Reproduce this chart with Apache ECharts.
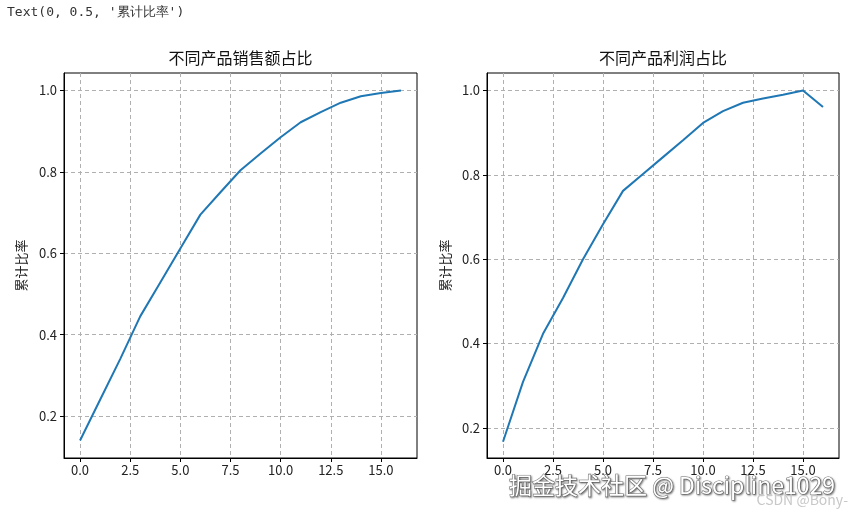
<!DOCTYPE html>
<html>
<head>
<meta charset="utf-8">
<script src="https://cdn.jsdelivr.net/npm/echarts@6/dist/echarts.min.js"></script>
<style>
html,body{margin:0;padding:0;background:#fff;}
#main{width:853px;height:514px;}
</style>
</head>
<body>
<div id="main"></div>
<script>
// ---- data ----
var productIndex = [0,1,2,3,4,5,6,7,8,9,10,11,12,13,14,15,16];
var salesCumRatio = [0.14,0.24,0.34,0.445,0.528,0.612,0.695,0.75,0.804,0.845,0.885,0.922,0.947,0.97,0.986,0.994,1.0];
var profitCumRatio = [0.167,0.309,0.423,0.508,0.6,0.683,0.762,0.802,0.842,0.882,0.923,0.951,0.971,0.981,0.99,1.0,0.961];
var xTickValues = [0,2.5,5,7.5,10,12.5,15];
var yTickValues = [0.2,0.4,0.6,0.8,1.0];
var titles = ['不同产品销售额占比','不同产品利润占比'];
var yName = '累计比率';
var outputText = "Text(0, 0.5, '累计比率')";

var FONT = '"Noto Sans CJK SC", "Noto Sans", sans-serif';
function pairs(xs, ys){ return xs.map(function(x,i){ return [x, ys[i]]; }); }

function xAxisCfg(gi){
  return {
    type:'value', gridIndex:gi, min:-0.8, max:16.8,
    axisLine:{show:true, onZero:false, lineStyle:{color:'#000', width:1}},
    axisTick:{show:true, length:4, inside:false, customValues:xTickValues, lineStyle:{color:'#000', width:1}},
    axisLabel:{customValues:xTickValues, formatter:function(v){return v.toFixed(1);}, color:'#222', fontSize:13, margin:6, fontFamily:FONT},
    splitLine:{show:true, lineStyle:{color:'#b0b0b0', type:[4,3], width:1}}
  };
}
function yAxisCfg(gi, mn, mx, gap){
  return {
    type:'value', gridIndex:gi, min:mn, max:mx,
    name:yName, nameLocation:'middle', nameGap:gap, nameRotate:90,
    nameTextStyle:{color:'#222', fontSize:13, fontFamily:FONT},
    axisLine:{show:true, onZero:false, lineStyle:{color:'#000', width:1}},
    axisTick:{show:true, length:4, inside:false, customValues:yTickValues, lineStyle:{color:'#000', width:1}},
    axisLabel:{customValues:yTickValues, formatter:function(v){return v.toFixed(1);}, color:'#222', fontSize:13, margin:7, fontFamily:FONT},
    splitLine:{show:true, lineStyle:{color:'#b0b0b0', type:[4,3], width:1}}
  };
}

var chart = echarts.init(document.getElementById('main'), null, {renderer:'canvas'});
chart.setOption({
  backgroundColor:'#fff',
  animation:false,
  grid:[
    {left:64, top:73, width:353, height:385, show:true, borderColor:'#000', borderWidth:1, backgroundColor:'transparent'},
    {left:487, top:73, width:352, height:385, show:true, borderColor:'#000', borderWidth:1, backgroundColor:'transparent'}
  ],
  xAxis:[xAxisCfg(0), xAxisCfg(1)],
  yAxis:[yAxisCfg(0, 0.097, 1.043, 36), yAxisCfg(1, 0.1285, 1.0415, 35)],
  series:[
    {type:'line', xAxisIndex:0, yAxisIndex:0, data:pairs(productIndex, salesCumRatio), showSymbol:false, lineStyle:{color:'#1f77b4', width:2}, itemStyle:{color:'#1f77b4'}},
    {type:'line', xAxisIndex:1, yAxisIndex:1, data:pairs(productIndex, profitCumRatio), showSymbol:false, lineStyle:{color:'#1f77b4', width:2}, itemStyle:{color:'#1f77b4'}}
  ],
  graphic:[
    {type:'text', left:7, top:6, style:{text:outputText, font:'13px "DejaVu Sans Mono", monospace', fill:'#333'}},
    {type:'text', x:240.5, y:58, style:{text:titles[0], font:'16px '+FONT, fill:'#111', textAlign:'center', textVerticalAlign:'middle'}},
    {type:'text', x:663, y:58, style:{text:titles[1], font:'16px '+FONT, fill:'#111', textAlign:'center', textVerticalAlign:'middle'}},
    {type:'text', x:672, y:485, z:100, style:{text:'掘金技术社区 @ Discipline1029', font:'23px '+FONT, fill:'#fff', stroke:'#777', lineWidth:1.2, textAlign:'center', textVerticalAlign:'middle', textShadowColor:'rgba(0,0,0,0.4)', textShadowBlur:2, textShadowOffsetX:1, textShadowOffsetY:1}},
    {type:'text', x:848, y:500, z:100, style:{text:'CSDN @Bony-', font:'14px '+FONT, fill:'#c8c8c8', textAlign:'right', textVerticalAlign:'middle'}}
  ]
});
</script>
</body>
</html>
